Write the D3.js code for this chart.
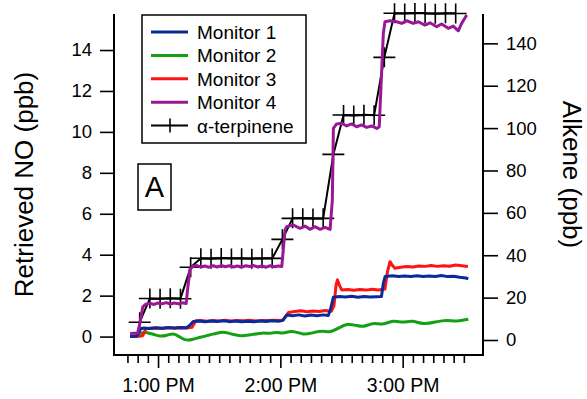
<!DOCTYPE html>
<html>
<head>
<meta charset="utf-8">
<script src="https://cdn.jsdelivr.net/npm/d3@7"></script>
<style>
  body { margin: 0; background: #fff; }
  svg { font-family: "Liberation Sans", Arial, sans-serif; }
</style>
</head>
<body>
<svg id="chart" width="587" height="399"></svg>
<script>
// time is minutes after 12:00 PM
const xTickTimes = [45,50,55,60,65,70,75,80,85,90,95,100,105,110,115,120,125,130,135,140,145,150,155,160,165,170,175,180,185,190,195,200,205,210];
const xMajorTicks = [60, 120, 180];
const xTickLabels = ["1:00 PM", "2:00 PM", "3:00 PM"];
const leftTicks = [0, 2, 4, 6, 8, 10, 12, 14];
const rightTicks = [0, 20, 40, 60, 80, 100, 120, 140];

const monitor1 = [[46.3,0.0],[49.5,0.02],[51.5,0.38],[53,0.42],[56,0.40],[59,0.43],[62,0.41],[65,0.44],[68,0.42],[71,0.44],[74,0.43],[75.5,0.55],[77.3,0.74],[80,0.76],[83,0.72],[86,0.76],[89,0.74],[92,0.77],[95,0.73],[98,0.76],[101,0.72],[104,0.75],[107,0.73],[110,0.76],[113,0.74],[116,0.77],[119,0.75],[121,0.78],[122.3,0.95],[123.3,1.05],[126,1.02],[129,1.06],[132,1.01],[135,1.05],[138,1.02],[141,1.06],[143.5,1.03],[144.5,1.3],[146,1.92],[149,1.96],[152,1.93],[155,1.97],[158,1.92],[161,1.96],[164,1.93],[167,1.95],[169.6,1.96],[170.5,2.6],[171.4,2.94],[175,2.97],[178,2.93],[181,2.96],[184,2.94],[187,2.97],[190,2.93],[193,2.96],[196,2.94],[199,2.98],[202,2.93],[205,2.95],[208,2.9],[211,2.86],[212.2,2.82]];
const monitor2 = [[46.3,0.0],[49,0.02],[52.2,0.22],[54.5,0.2],[57.7,0.12],[61,0.0],[64.3,0.06],[67.5,0.17],[70,0.02],[73.2,-0.19],[76.7,-0.16],[80.6,-0.03],[85.5,0.08],[88.8,0.17],[92,0.23],[94.5,0.17],[96.9,0.11],[100.2,0.02],[105.1,0.08],[111.6,0.2],[114.9,0.13],[118.2,0.24],[121.5,0.13],[125.6,0.33],[131.3,0.06],[136.2,0.2],[141.1,0.3],[144.4,0.18],[149.3,0.46],[152.5,0.62],[156.6,0.57],[160.7,0.46],[164,0.62],[167.3,0.65],[170.5,0.57],[175.4,0.82],[180.3,0.65],[184.4,0.82],[190.1,0.57],[196.7,0.73],[201.6,0.82],[206.5,0.73],[212.2,0.85]];
const monitor3 = [[46.3,0.0],[51,0.01],[52.5,0.05],[54,0.38],[56,0.41],[59,0.42],[62,0.4],[65,0.43],[68,0.41],[71,0.43],[74,0.42],[76.6,0.45],[78.6,0.77],[81,0.78],[84,0.75],[87,0.79],[90,0.76],[93,0.8],[96,0.76],[99,0.79],[102,0.77],[105,0.8],[108,0.76],[111,0.79],[114,0.78],[117,0.8],[120,0.78],[121.5,0.82],[123,1.05],[124,1.18],[127,1.22],[130,1.26],[133,1.21],[136,1.25],[139,1.23],[142,1.27],[145,1.24],[146.3,1.5],[147.3,2.5],[148,2.77],[149,2.5],[150.1,2.28],[153,2.3],[156,2.26],[159,2.3],[162,2.27],[165,2.31],[168,2.28],[171.3,2.32],[172.6,3.2],[173.8,3.66],[174.8,3.5],[176.2,3.34],[179,3.39],[182,3.42],[185,3.4],[188,3.45],[191,3.43],[194,3.47],[197,3.43],[200,3.46],[203,3.44],[206,3.5],[209,3.46],[212,3.42]];
const monitor4 = [[46.3,0.15],[50,0.17],[51.2,0.7],[52.5,1.45],[54,1.58],[56,1.63],[58,1.57],[60,1.64],[62,1.6],[64,1.66],[66,1.59],[68,1.64],[70,1.6],[72,1.65],[73.8,1.62],[74.5,2.3],[75.7,3.3],[77,3.42],[79,3.47],[81,3.4],[83,3.45],[85,3.39],[87,3.46],[89,3.4],[91,3.47],[93,3.41],[95,3.46],[97,3.4],[99,3.45],[101,3.39],[103,3.46],[105,3.42],[107,3.47],[109,3.4],[111,3.45],[113,3.39],[115,3.46],[117,3.41],[119,3.45],[120.7,3.42],[121.5,4.32],[122.3,5.21],[123.1,5.37],[126.4,5.45],[129.6,5.29],[132.1,5.4],[134.5,5.24],[137,5.37],[139.5,5.24],[141.9,5.34],[144.4,5.24],[145.5,6.67],[146,10.17],[147.6,10.39],[150.1,10.42],[152.5,10.29],[155,10.39],[157.4,10.25],[159.9,10.34],[162.3,10.22],[164.8,10.29],[167.3,10.17],[168.5,10.25],[170.5,14.8],[171.3,15.38],[173.8,15.43],[177.1,15.38],[179.5,15.3],[182,15.43],[185.2,15.3],[187.7,15.38],[190.9,15.22],[193.4,15.33],[196.7,15.14],[199.1,15.27],[202.4,15.06],[204.8,15.17],[207.3,14.94],[208.9,15.3],[211.4,15.71]];

const alkeneTimes = [51,56,61,66,71,76,81,86,91,96,101,106,111,116,121,126,131,136,141,146,151,156,161,166,171,176,181,186,191,196,201,206];
const alkeneValues = [8.4,19.6,19.5,19.7,19.5,34.3,38.6,38.4,38.7,38.5,38.6,38.4,38.6,38.5,47.5,57.4,57.5,57.3,57.4,87.6,106.2,106.0,106.3,106.1,133.4,154.2,154.1,154.3,154.2,154.0,154.2,154.1];

const seriesNames = ["Monitor 1", "Monitor 2", "Monitor 3", "Monitor 4", "α-terpinene"];
const seriesColors = ["#0a2a9c", "#14a014", "#ff1414", "#9a1896", "#000"];

const svg = d3.select("#chart");
const plotL = 114, plotR = 483, plotT = 14, plotB = 355;

const x = d3.scaleLinear().domain([38.4, 219.4]).range([plotL, plotR]);
const yL = d3.scaleLinear().domain([-0.9, 15.76]).range([plotB, plotT]);
const yR = d3.scaleLinear().domain([-7.08, 153.85]).range([plotB, plotT]);

// alkene line and markers (drawn first, monitors sit on top)
const alkene = alkeneTimes.map((t, i) => [t, alkeneValues[i]]);
svg.append("path")
  .datum(alkene)
  .attr("d", d3.line().x(d => x(d[0])).y(d => yR(d[1])))
  .attr("fill", "none").attr("stroke", "#000").attr("stroke-width", 2);

svg.selectAll(".mark").data(alkene).enter().append("path")
  .attr("class", "mark")
  .attr("d", d => {
    let cx = x(d[0]), cy = yR(d[1]);
    return `M${cx-11},${cy}H${cx+11}M${cx},${cy-10}V${cy+10}`;
  })
  .attr("stroke", "#000").attr("stroke-width", 1.6).attr("fill", "none");

// monitors
const drawOrder = [[monitor2, 1, true], [monitor3, 2, false], [monitor1, 0, false], [monitor4, 3, false]];
drawOrder.forEach(([data, ci, smooth]) => {
  let line = d3.line().x(d => x(d[0])).y(d => yL(d[1]))
    .curve(smooth ? d3.curveBasis : d3.curveLinear);
  svg.append("path")
    .datum(data)
    .attr("d", line)
    .attr("fill", "none")
    .attr("stroke", seriesColors[ci])
    .attr("stroke-width", 3)
    .attr("stroke-linejoin", "round");
});

// axes
const leftAxis = d3.axisLeft(yL).tickValues(leftTicks).tickSize(14).tickPadding(8).tickSizeOuter(0);
const rightAxis = d3.axisRight(yR).tickValues(rightTicks).tickSize(15).tickPadding(8).tickSizeOuter(0);
const bottomMinor = d3.axisBottom(x).tickValues(xTickTimes.filter(t => !xMajorTicks.includes(t))).tickSize(8).tickFormat("").tickSizeOuter(0);
const bottomMajor = d3.axisBottom(x).tickValues(xMajorTicks).tickSize(13).tickPadding(10)
  .tickFormat((d, i) => xTickLabels[i]).tickSizeOuter(0);

function styleAxis(g, size) {
  g.selectAll("path.domain").remove();
  g.selectAll("line").attr("stroke", "#000").attr("stroke-width", 1.6);
  g.selectAll("text").attr("fill", "#000").style("font-size", size + "px");
}

svg.append("g").attr("transform", `translate(${plotL},0)`).call(leftAxis).call(g => styleAxis(g, 18.5));
svg.append("g").attr("transform", `translate(${plotR},0)`).call(rightAxis).call(g => styleAxis(g, 18.5));
svg.append("g").attr("transform", `translate(0,${plotB})`).call(bottomMinor).call(g => styleAxis(g, 18));
svg.append("g").attr("transform", `translate(0,${plotB})`).call(bottomMajor).call(g => styleAxis(g, 19.5));

// frame: left, bottom, right (no top)
svg.append("path")
  .attr("d", `M${plotL},${plotT}V${plotB}H${plotR}V${plotT}`)
  .attr("fill", "none").attr("stroke", "#000").attr("stroke-width", 2);

// axis titles
svg.append("text")
  .attr("transform", `translate(33,${(plotT + plotB) / 2}) rotate(-90)`)
  .attr("text-anchor", "middle")
  .style("font-size", "26px")
  .text("Retrieved NO (ppb)");

svg.append("text")
  .attr("transform", `translate(563,${(plotT + plotB) / 2 - 10}) rotate(90)`)
  .attr("text-anchor", "middle")
  .style("font-size", "26px")
  .text("Alkene (ppb)");

// legend
const legend = svg.append("g");
legend.append("rect")
  .attr("x", 142).attr("y", 15).attr("width", 164).attr("height", 128)
  .attr("fill", "#fff").attr("stroke", "#000").attr("stroke-width", 1.5);
seriesNames.forEach((name, i) => {
  let ly = 32 + i * 23.4;
  legend.append("line")
    .attr("x1", 151).attr("x2", 188).attr("y1", ly).attr("y2", ly)
    .attr("stroke", seriesColors[i]).attr("stroke-width", i < 4 ? 3 : 2);
  if (i == 4) {
    legend.append("line")
      .attr("x1", 170).attr("x2", 170).attr("y1", ly - 7).attr("y2", ly + 7)
      .attr("stroke", "#000").attr("stroke-width", 1.6);
  }
  legend.append("text")
    .attr("x", 197).attr("y", ly + 7)
    .style("font-size", "19px")
    .text(name);
});

// panel label
svg.append("rect")
  .attr("x", 138).attr("y", 164).attr("width", 33).attr("height", 46)
  .attr("fill", "#fff").attr("stroke", "#000").attr("stroke-width", 1.5);
svg.append("text")
  .attr("x", 154.5).attr("y", 197)
  .attr("text-anchor", "middle")
  .style("font-size", "29px")
  .text("A");
</script>
</body>
</html>
